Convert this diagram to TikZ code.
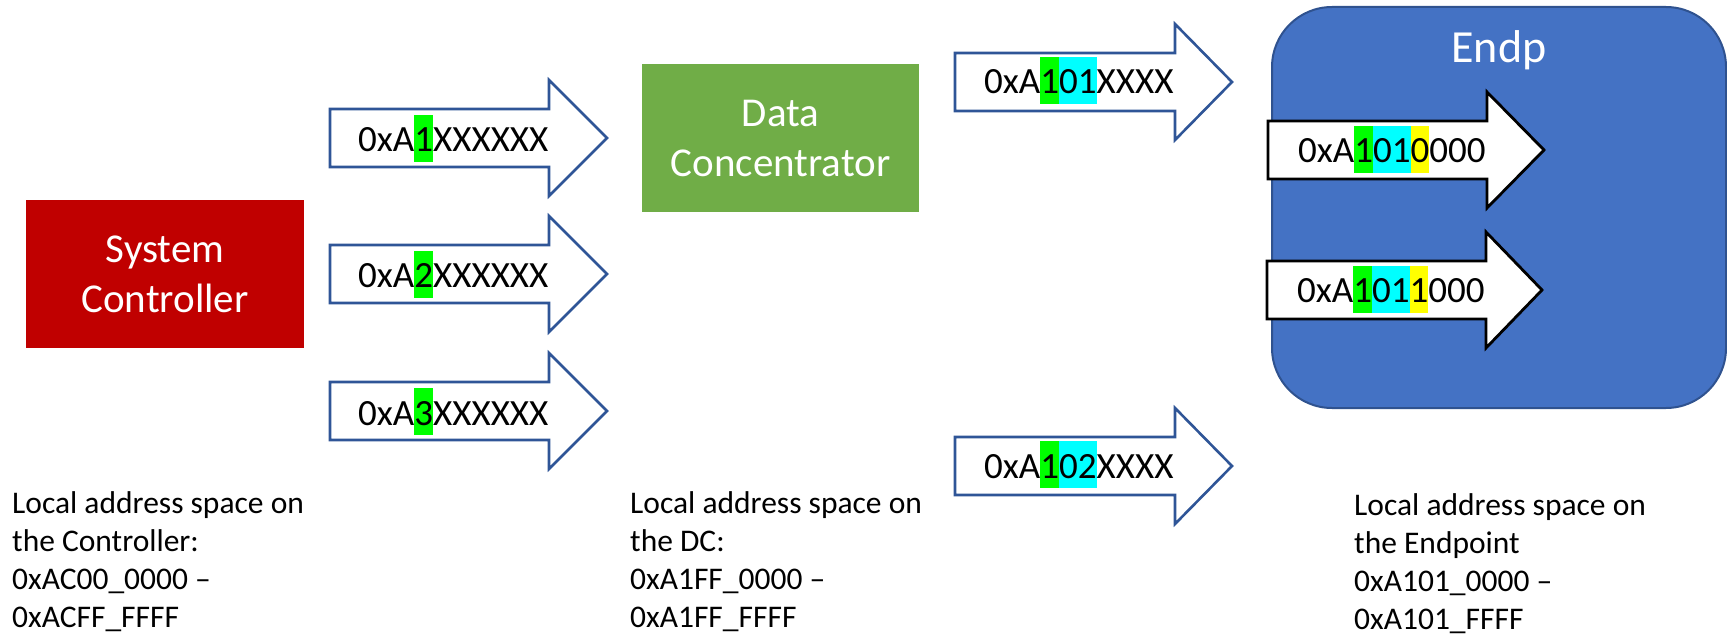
\documentclass[tikz,border=0pt]{standalone}
\usepackage{fontspec}
\setmainfont{Carlito}
\definecolor{sysred}{HTML}{C00000}
\definecolor{dcgreen}{HTML}{70AD47}
\definecolor{epblue}{HTML}{4472C4}
\definecolor{epborder}{HTML}{2F528F}
\definecolor{arrowblue}{HTML}{2F5597}
\definecolor{hlgreen}{HTML}{00FF00}
\definecolor{hlcyan}{HTML}{00FFFF}
\definecolor{hlyellow}{HTML}{FFFF00}
\newcommand\hl[2]{\begingroup\setbox0\hbox{#2}\rlap{\textcolor{#1}{\rule[-0.26em]{\wd0}{1.27em}}}\box0\endgroup}
\newcommand\blockarrow[6]{%
  \pgfmathsetmacro\bB{#4+58}\pgfmathsetmacro\bHt{#4-29}%
  \pgfmathsetmacro\bHb{#4+87}\pgfmathsetmacro\bM{#4+29}%
  \draw[#1] (#3,#4) -- (#5,#4) -- (#5,\bHt) -- (#6,\bM) -- (#5,\bHb) -- (#5,\bB) -- (#3,\bB) -- cycle;
  \coordinate (#2) at (#3,\bM);
}
\tikzset{
  bluearrow/.style={draw=arrowblue, fill=white, line width=2.6pt, line join=miter},
  blackarrow/.style={draw=black, fill=white, line width=2.8pt, line join=miter},
  arrowtext/.style={anchor=base west, inner sep=0pt, font=\fontsize{37}{44}\selectfont, text=black},
  boxtext/.style={align=center, text=white, font=\fontsize{41}{50}\selectfont, inner sep=0pt},
  note/.style={anchor=base west, inner sep=0pt, font=\fontsize{31.5}{38}\selectfont}
}
\begin{document}
\begin{tikzpicture}[x=1pt,y=-1pt]
\useasboundingbox (0,0) rectangle (1727,636);
% boxes
\node[fill=sysred, minimum width=278pt, minimum height=148pt, boxtext] (sc) at (165,274) {System\\Controller};
\node[fill=dcgreen, minimum width=277pt, minimum height=148pt, boxtext] (dc) at (780.5,138) {Data\\Concentrator};
\draw[fill=epblue, draw=epborder, line width=2pt, rounded corners=60pt] (1272,7) rectangle (1726,408);
\coordinate (epc) at (1499,63);
\node[anchor=base, inner sep=0pt, text=white, font=\fontsize{46}{55}\selectfont] (ep) at (epc) {Endp};
% left arrows
\blockarrow{bluearrow}{a1}{330}{109}{549}{607}
\blockarrow{bluearrow}{a2}{330}{245}{549}{607}
\blockarrow{bluearrow}{a3}{330}{382}{549}{607}
\node[arrowtext] (t1) at ([shift={(28,14)}]a1) {0xA\hl{hlgreen}{1}XXXXXX};
\node[arrowtext] (t2) at ([shift={(28,14)}]a2) {0xA\hl{hlgreen}{2}XXXXXX};
\node[arrowtext] (t3) at ([shift={(28,14)}]a3) {0xA\hl{hlgreen}{3}XXXXXX};
% DC arrows
\blockarrow{bluearrow}{b1}{955}{53}{1175}{1232}
\blockarrow{bluearrow}{b2}{955}{437}{1175}{1232}
\node[arrowtext] (u1) at ([shift={(29,12)}]b1) {0xA\hl{hlgreen}{1}\hl{hlcyan}{01}XXXX};
\node[arrowtext] (u2) at ([shift={(29,12)}]b2) {0xA\hl{hlgreen}{1}\hl{hlcyan}{02}XXXX};
% endpoint arrows
\blockarrow{blackarrow}{e1}{1268}{121}{1487}{1544}
\blockarrow{blackarrow}{e2}{1267}{261}{1486}{1542}
\node[arrowtext] (v1) at ([shift={(30,13)}]e1) {0xA\hl{hlgreen}{1}\hl{hlcyan}{01}\hl{hlyellow}{0}000};
\node[arrowtext] (v2) at ([shift={(30,13)}]e2) {0xA\hl{hlgreen}{1}\hl{hlcyan}{01}\hl{hlyellow}{1}000};
% notes
\node[note] (n1) at (12,513) {\vtop{\baselineskip=38pt\hbox{Local address space on}\hbox{the Controller:}\hbox{0xAC00\_0000 –}\hbox{0xACFF\_FFFF}}};
\node[note] (n2) at (630,513) {\vtop{\baselineskip=38pt\hbox{Local address space on}\hbox{the DC:}\hbox{0xA1FF\_0000 –}\hbox{0xA1FF\_FFFF}}};
\node[note] (n3) at (1354,515) {\vtop{\baselineskip=38pt\hbox{Local address space on}\hbox{the Endpoint}\hbox{0xA101\_0000 –}\hbox{0xA101\_FFFF}}};
\end{tikzpicture}
\end{document}
